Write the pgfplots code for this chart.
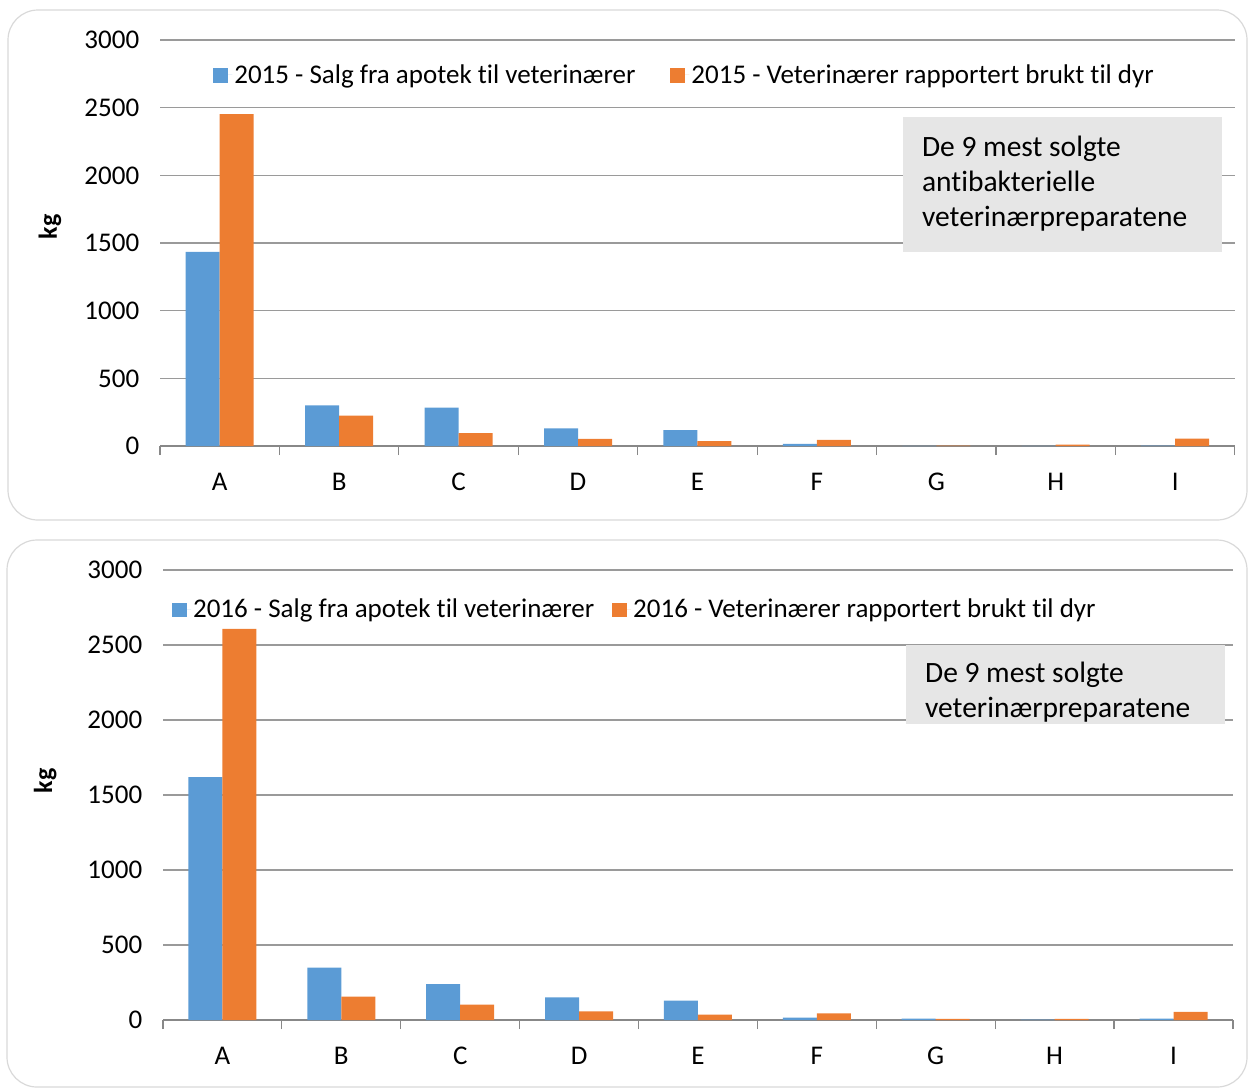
\documentclass[border=0pt]{standalone}
\usepackage{pgfplots}
\pgfplotsset{compat=1.18}
\usepackage{fontspec}
\setmainfont{Carlito}[Ligatures=NoCommon]
\definecolor{cblue}{HTML}{5B9BD5}
\definecolor{corange}{HTML}{ED7D31}
\definecolor{gridgray}{HTML}{9A9A9A}
\definecolor{axisgray}{HTML}{888888}
\definecolor{boxgray}{HTML}{E6E6E6}
\definecolor{framegray}{HTML}{D9D9D9}

\pgfplotsset{
  mybar/.style={
    scale only axis,
    ybar=0pt, bar width=34pt,
    xmin=-0.5, xmax=8.5, ymin=0, ymax=3000,
    xtick={0,1,2,3,4,5,6,7,8},
    xticklabels={A,B,C,D,E,F,G,H,I},
    minor xtick={-0.5,0.5,1.5,2.5,3.5,4.5,5.5,6.5,7.5,8.5},
    ytick={0,500,1000,1500,2000,2500,3000},
    axis x line*=bottom, axis y line*=left,
    x axis line style={draw=axisgray, line width=1.5pt, -},
    y axis line style={draw=none},
    ymajorgrids, grid style={draw=gridgray, line width=1.1pt},
    major x tick style={draw=none},
    minor x tick style={draw=axisgray, line width=1.2pt},
    minor tick length=9pt,
    ytick style={draw=none},
    tick align=outside,
    xtick pos=bottom, ytick pos=left,
    /pgf/number format/assume math mode=true,
    /pgf/number format/1000 sep={},
    tick label style={font=\fontsize{27}{31}\selectfont},
    xticklabel style={yshift=-19pt},
    yticklabel style={xshift=-13pt},
    legend columns=2,
    legend image code/.code={\path[#1,draw=none] (0pt,-8pt) rectangle (15pt,6.5pt); \path (0pt,0pt) -- (19pt,0pt);},
    legend style={draw=none, fill=none, font=\fontsize{27}{31}\selectfont,
      anchor=center},
    legend cell align=left,
  }
}

\begin{document}
\begin{tikzpicture}
\useasboundingbox (0pt,0pt) rectangle (1249pt,-1088pt);
\draw[framegray, line width=1.2pt, rounded corners=30pt] (8pt,-10pt) rectangle (1247pt,-520pt);
\draw[framegray, line width=1.2pt, rounded corners=30pt] (7pt,-540pt) rectangle (1247pt,-1087pt);

\begin{axis}[mybar, width=1075pt, height=406pt,
  at={(160pt,-446pt)}, anchor=south west,
  legend style={at={(0.488,0.914)}, /tikz/every even column/.append style={column sep=33pt}},
  ylabel={kg},
  every axis y label/.style={at={(rel axis cs:-0.1023,0.54)}, rotate=90, anchor=center, font=\fontsize{26}{30}\selectfont\bfseries},
]
\addplot[fill=cblue, draw=none] coordinates {(0,1434) (1,300) (2,284) (3,130) (4,118) (5,15) (6,1) (7,1) (8,2)};
\addplot[fill=corange, draw=none] coordinates {(0,2453) (1,225) (2,95) (3,53) (4,37) (5,45) (6,2) (7,10) (8,54)};
\legend{2015 - Salg fra apotek til veterinærer, 2015 - Veterinærer rapportert brukt til dyr}
\fill[boxgray] (rel axis cs:0.6912,0.8103) rectangle (rel axis cs:0.9879,0.4778);
\node[anchor=north west, inner sep=0pt, align=left, font=\fontsize{29.5}{35}\selectfont]
  at (rel axis cs:0.7088,0.7735) {\strut De 9 mest solgte\\\strut antibakterielle\\\strut veterinærpreparatene};
\end{axis}

\begin{axis}[mybar, width=1070pt, height=450pt,
  at={(163pt,-1020pt)}, anchor=south west,
  legend style={at={(0.441,0.913)}, /tikz/every even column/.append style={column sep=16pt}},
  ylabel={kg},
  every axis y label/.style={at={(rel axis cs:-0.110,0.531)}, rotate=90, anchor=center, font=\fontsize{26}{30}\selectfont\bfseries},
]
\addplot[fill=cblue, draw=none] coordinates {(0,1620) (1,349) (2,240) (3,151) (4,129) (5,16) (6,9) (7,3) (8,9)};
\addplot[fill=corange, draw=none] coordinates {(0,2607) (1,156) (2,102) (3,58) (4,36) (5,44) (6,7) (7,8) (8,55)};
\legend{2016 - Salg fra apotek til veterinærer, 2016 - Veterinærer rapportert brukt til dyr}
\fill[boxgray] (rel axis cs:0.6944,0.8333) rectangle (rel axis cs:0.9925,0.6578);
\node[anchor=north west, inner sep=0pt, align=left, font=\fontsize{29.5}{35}\selectfont]
  at (rel axis cs:0.7121,0.8045) {\strut De 9 mest solgte\\\strut veterinærpreparatene};
\end{axis}
\end{tikzpicture}
\end{document}
